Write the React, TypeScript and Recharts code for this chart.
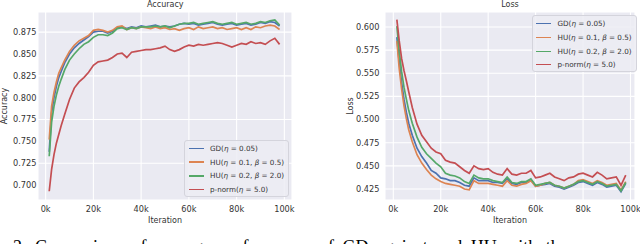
import { CartesianGrid, Legend, Line, LineChart, XAxis, YAxis } from "recharts";

// iterations, in thousands
const ITERS = [
  1.5, 2.5, 3.5, 4.5, 5.5, 6.5, 8, 10, 12, 14, 16, 18,
  20, 22, 24, 26, 28, 30, 32, 34, 36, 38,
  40, 42, 44, 46, 48, 50, 52, 54, 56, 58,
  60, 62, 64, 66, 68, 70, 72, 74, 76, 78,
  80, 82, 84, 86, 88, 90, 92, 94, 96, 98,
];

const ACC_GD = [
  0.738, 0.783, 0.8, 0.813, 0.823, 0.83, 0.84, 0.85, 0.857, 0.862, 0.866, 0.87,
  0.875, 0.876, 0.876, 0.874, 0.876, 0.88, 0.881, 0.879, 0.881, 0.88,
  0.882, 0.881, 0.882, 0.883, 0.881, 0.882, 0.881, 0.882, 0.884, 0.885,
  0.884, 0.885, 0.883, 0.884, 0.885, 0.886, 0.884, 0.883, 0.884, 0.885,
  0.883, 0.884, 0.885, 0.883, 0.884, 0.886, 0.885, 0.887, 0.886, 0.882,
];
const ACC_HU1 = [
  0.752, 0.79, 0.806, 0.818, 0.828, 0.834, 0.843, 0.853, 0.86, 0.865, 0.868, 0.871,
  0.877, 0.878, 0.877, 0.875, 0.877, 0.881, 0.882, 0.878, 0.88, 0.879,
  0.881, 0.88, 0.879, 0.881, 0.879, 0.88, 0.878, 0.879, 0.877, 0.879,
  0.88, 0.878, 0.881, 0.879, 0.88, 0.881, 0.879, 0.88, 0.878, 0.879,
  0.88, 0.878, 0.88, 0.878, 0.881, 0.88, 0.882, 0.883, 0.882, 0.878,
];
const ACC_HU2 = [
  0.733, 0.772, 0.79, 0.803, 0.813, 0.821, 0.832, 0.843, 0.85, 0.856, 0.861, 0.864,
  0.869, 0.872, 0.872, 0.871, 0.874, 0.879, 0.88, 0.878, 0.88, 0.879,
  0.881, 0.881, 0.881, 0.882, 0.881, 0.882, 0.88, 0.882, 0.884, 0.885,
  0.885, 0.886, 0.884, 0.885, 0.886, 0.887, 0.885, 0.884, 0.885, 0.886,
  0.884, 0.885, 0.886, 0.884, 0.885, 0.887, 0.886, 0.888, 0.889, 0.883,
];
const ACC_PNORM = [
  0.693, 0.718, 0.735, 0.748, 0.758, 0.768, 0.781, 0.798, 0.811, 0.818, 0.823, 0.829,
  0.837, 0.841, 0.842, 0.843, 0.846, 0.85, 0.851, 0.846, 0.852, 0.853,
  0.854, 0.855, 0.855, 0.856, 0.857, 0.859, 0.855, 0.853, 0.855, 0.858,
  0.86, 0.859, 0.861, 0.86, 0.861, 0.862, 0.863, 0.862, 0.86, 0.858,
  0.86, 0.862, 0.861, 0.864, 0.862, 0.863, 0.861, 0.865, 0.868, 0.861,
];

const LOSS_GD = [
  0.589, 0.562, 0.54, 0.522, 0.508, 0.496, 0.483, 0.469, 0.46, 0.453, 0.445, 0.442,
  0.437, 0.436, 0.434, 0.434, 0.432, 0.429, 0.428, 0.437, 0.434, 0.434,
  0.434, 0.432, 0.432, 0.431, 0.436, 0.431, 0.43, 0.432, 0.432, 0.435,
  0.428, 0.429, 0.43, 0.431, 0.428, 0.427, 0.425, 0.427, 0.429, 0.432,
  0.433, 0.431, 0.429, 0.432, 0.43, 0.427, 0.428, 0.429, 0.422, 0.431,
];
const LOSS_HU1 = [
  0.585, 0.555, 0.533, 0.515, 0.501, 0.489, 0.476, 0.462, 0.453, 0.446, 0.44, 0.436,
  0.433, 0.431, 0.43, 0.429, 0.428, 0.425, 0.424, 0.434, 0.431, 0.431,
  0.431, 0.43, 0.429, 0.428, 0.434, 0.429, 0.428, 0.43, 0.431, 0.434,
  0.428, 0.429, 0.431, 0.432, 0.429, 0.428, 0.426, 0.428, 0.43, 0.434,
  0.435, 0.433, 0.431, 0.434, 0.432, 0.429, 0.43, 0.431, 0.424, 0.433,
];
const LOSS_HU2 = [
  0.601, 0.574, 0.552, 0.535, 0.522, 0.51, 0.496, 0.481, 0.47, 0.463, 0.458, 0.453,
  0.449, 0.442, 0.44, 0.439, 0.437, 0.433, 0.431, 0.44, 0.437, 0.436,
  0.436, 0.434, 0.433, 0.432, 0.438, 0.432, 0.431, 0.433, 0.433, 0.436,
  0.429, 0.43, 0.431, 0.432, 0.429, 0.428, 0.426, 0.428, 0.43, 0.433,
  0.434, 0.432, 0.43, 0.433, 0.431, 0.428, 0.429, 0.43, 0.423, 0.432,
];
const LOSS_PNORM = [
  0.608, 0.585, 0.566, 0.553, 0.542, 0.53, 0.513, 0.495, 0.483, 0.476, 0.469, 0.465,
  0.463, 0.456, 0.454, 0.453, 0.449, 0.445, 0.442, 0.45, 0.447, 0.446,
  0.447, 0.443, 0.441, 0.44, 0.447, 0.441, 0.44, 0.442, 0.442, 0.445,
  0.437, 0.438, 0.44, 0.442, 0.438, 0.436, 0.434, 0.437, 0.438, 0.441,
  0.442, 0.44, 0.438, 0.443, 0.44, 0.436, 0.437, 0.438, 0.429, 0.44,
];

const X_TICKS = [0, 20, 40, 60, 80, 100];
const ACC_TICKS = [0.7, 0.725, 0.75, 0.775, 0.8, 0.825, 0.85, 0.875];
const LOSS_TICKS = [0.425, 0.45, 0.475, 0.5, 0.525, 0.55, 0.575, 0.6];

const KEYS = ["gd", "hu1", "hu2", "pnorm"];
const LABELS = ["GD(η = 0.05)", "HU(η = 0.1, β = 0.5)", "HU(η = 0.2, β = 2.0)", "p-norm(η = 5.0)"];
const COLORS = ["#4c72b0", "#dd8452", "#55a868", "#c44e52"];

const accRows = ITERS.map((iter, i) => ({
  iter,
  gd: ACC_GD[i],
  hu1: ACC_HU1[i],
  hu2: ACC_HU2[i],
  pnorm: ACC_PNORM[i],
}));
const lossRows = ITERS.map((iter, i) => ({
  iter,
  gd: LOSS_GD[i],
  hu1: LOSS_HU1[i],
  hu2: LOSS_HU2[i],
  pnorm: LOSS_PNORM[i],
}));

const FONT = "'DejaVu Sans', sans-serif";
const TEXT = "#333";
const tick = { fontSize: 8.2, fill: TEXT, fontFamily: FONT };

// greek letters in the legend are math italics
function fancy(label: string) {
  return label.split(/([ηβ])/).map((part, i) =>
    part === "η" || part === "β" ? <i key={i}>{part}</i> : <span key={i}>{part}</span>
  );
}

function legendBox(padLeft: number, lineLen: number, gap: number, lineW: number) {
  return () => (
    <div
      style={{
        width: "100%",
        height: "100%",
        boxSizing: "border-box",
        background: "rgba(236,236,243,0.85)",
        border: "1px solid #d4d4dc",
        borderRadius: 3,
        padding: `1px 0 0 ${padLeft}px`,
        fontFamily: FONT,
        fontSize: 7.2,
        color: TEXT,
      }}
    >
      {LABELS.map((l, i) => (
        <div key={l} style={{ display: "flex", alignItems: "center", height: 13.7, whiteSpace: "nowrap" }}>
          <span style={{ width: lineLen, height: lineW, background: COLORS[i], marginRight: gap }} />
          <span>{fancy(l)}</span>
        </div>
      ))}
    </div>
  );
}

function yLabel(text: string, dx: number) {
  return (props: any) => {
    const vb = props.viewBox;
    const x = vb.x + dx;
    const y = vb.y + vb.height / 2;
    return (
      <text x={x} y={y} transform={`rotate(-90 ${x} ${y})`} textAnchor="middle" dominantBaseline="central"
        fontSize={8} fill={TEXT} fontFamily={FONT}>
        {text}
      </text>
    );
  };
}

function xLabel(props: any) {
  const vb = props.viewBox;
  return (
    <text x={vb.x + vb.width / 2} y={vb.y + 20} textAnchor="middle" dominantBaseline="central"
      fontSize={8} fill={TEXT} fontFamily={FONT}>
      Iteration
    </text>
  );
}

function Panel(props: {
  rows: any[];
  xDomain: number[];
  yDomain: number[];
  yTicks: number[];
  yWidth: number;
  right: number;
  tickGap: number;
  yTitle: string;
  yTitleX: number;
  legendPos: { left: number; top: number; width: number; height: number };
  legend: () => any;
}) {
  return (
    <LineChart width={320} height={244} data={props.rows} margin={{ top: 12, right: props.right, bottom: 0, left: 0 }}>
      <CartesianGrid fill="#eaeaf2" stroke="#ffffff" strokeWidth={1.1} />
      <XAxis
        dataKey="iter"
        type="number"
        domain={props.xDomain}
        ticks={X_TICKS}
        allowDataOverflow
        tickFormatter={(v) => `${v}k`}
        axisLine={false}
        tickLine={false}
        tickSize={0}
        tickMargin={6}
        height={44}
        tick={tick}
        label={{ content: xLabel }}
      />
      <YAxis
        type="number"
        domain={props.yDomain}
        ticks={props.yTicks}
        allowDataOverflow
        tickFormatter={(v) => v.toFixed(3)}
        axisLine={false}
        tickLine={false}
        tickSize={0}
        tickMargin={props.tickGap}
        width={props.yWidth}
        tick={tick}
        label={{ content: yLabel(props.yTitle, props.yTitleX) }}
      />
      <Legend
        layout="vertical"
        align="center"
        verticalAlign="middle"
        content={props.legend}
        wrapperStyle={{ ...props.legendPos, position: "absolute" }}
      />
      {KEYS.map((k, i) => (
        <Line
          key={k}
          dataKey={k}
          name={LABELS[i]}
          stroke={COLORS[i]}
          strokeWidth={1.7}
          strokeLinejoin="miter"
          dot={false}
          type="linear"
          isAnimationActive={false}
        />
      ))}
    </LineChart>
  );
}

export default function App() {
  return (
    <div style={{ position: "absolute", left: 0, top: 0, width: 640, height: 244, overflow: "hidden", background: "#fff" }}>
      <div style={{ position: "absolute", left: 0, top: 0 }}>
        <Panel
          rows={accRows}
          xDomain={[-3.2, 103.2]}
          yDomain={[0.683, 0.898]}
          yTicks={ACC_TICKS}
          yWidth={38}
          right={28}
          tickGap={1.5}
          yTitle="Accuracy"
          yTitleX={4.5}
          legendPos={{ left: 184, top: 139.5, width: 104.5, height: 57.5 }}
          legend={legendBox(4, 15, 6, 1.6)}
        />
      </div>
      <div style={{ position: "absolute", left: 320, top: 0 }}>
        <Panel
          rows={lossRows}
          xDomain={[-3.5, 101.9]}
          yDomain={[0.4131, 0.6162]}
          yTicks={LOSS_TICKS}
          yWidth={65}
          right={5}
          tickGap={5.5}
          yTitle="Loss"
          yTitleX={30.5}
          legendPos={{ left: 212, top: 15, width: 105, height: 57 }}
          legend={legendBox(2.5, 15.5, 6.5, 1.1)}
        />
      </div>
      <div style={{ position: "absolute", left: 147, top: 0, width: 36, textAlign: "center", fontFamily: FONT, fontSize: 8, color: TEXT, lineHeight: "10px" }}>
        Accuracy
      </div>
      <div style={{ position: "absolute", left: 490, top: 0, width: 40, textAlign: "center", fontFamily: FONT, fontSize: 8, color: TEXT, lineHeight: "10px" }}>
        Loss
      </div>
      <div style={{ position: "absolute", left: 13, top: 238, whiteSpace: "nowrap", fontFamily: "'Liberation Serif', serif", fontSize: 18, lineHeight: 1, wordSpacing: 4, color: "#000" }}>
        2. Comparison of average performance of GD against and HU with the p-norm algorithm
      </div>
    </div>
  );
}
